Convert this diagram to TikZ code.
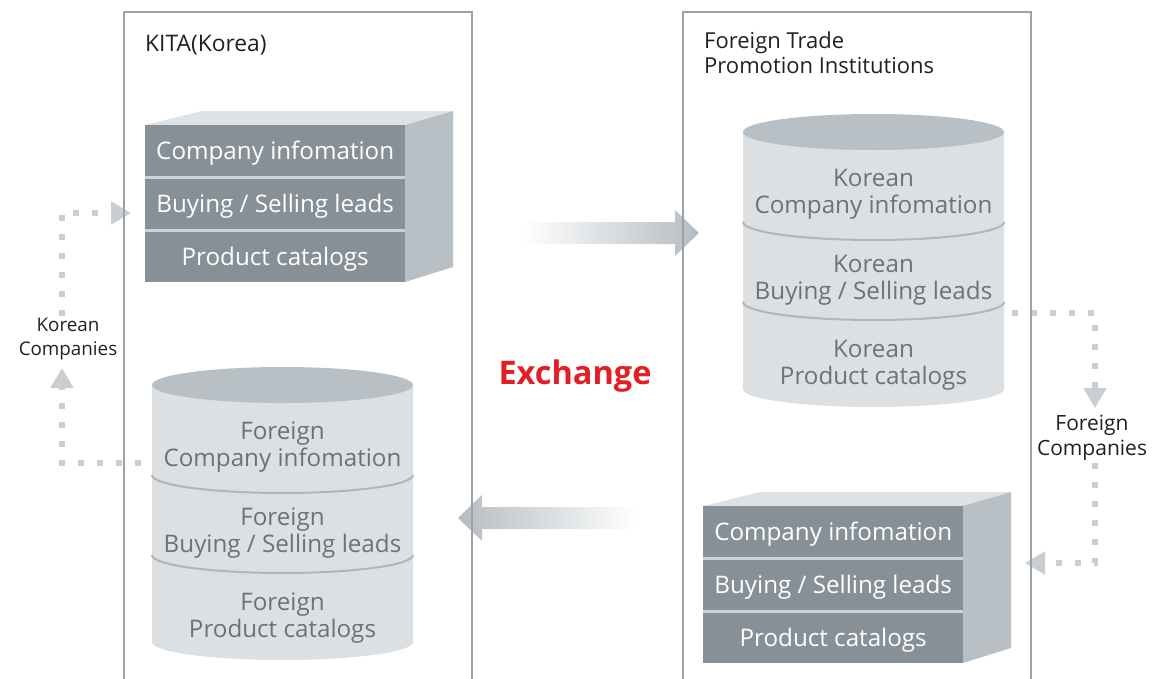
\documentclass[tikz,border=0pt]{standalone}
\usepackage{fontspec}
\setmainfont{Open Sans}
\usetikzlibrary{arrows.meta}
\definecolor{frame}{HTML}{9CA2A7}
\definecolor{boxfront}{HTML}{879096}
\definecolor{boxsep}{HTML}{CDD2D5}
\definecolor{boxside}{HTML}{B9C0C5}
\definecolor{boxtop}{HTML}{DEE2E5}
\definecolor{cylbody}{HTML}{DCE0E3}
\definecolor{cyltop}{HTML}{B9C0C5}
\definecolor{cylline}{HTML}{B0B6BB}
\definecolor{cyltext}{HTML}{6A7378}
\definecolor{dotc}{HTML}{C9CED2}
\definecolor{arrowc}{HTML}{B5BCC1}
\definecolor{exred}{HTML}{E31E24}
\definecolor{labelc}{HTML}{231F20}
\tikzset{
  panel/.style={draw=frame,line width=2pt},
  rowbox/.style={fill=boxfront,text=white,minimum width=260pt,inner sep=0pt,
    font=\fontsize{24.2}{28}\selectfont,text height=34pt,text depth=16.33pt,anchor=north west},
  cyltxt/.style={text=cyltext,align=center,font=\fontsize{24.2}{27}\selectfont,inner sep=0pt},
  lbl/.style={text=labelc,align=center,inner sep=2pt},
  hdr/.style={text=labelc,inner sep=0pt,font=\fontsize{22}{25}\selectfont},
  dotline/.style={draw=dotc,line width=6pt,dash pattern=on 6pt off 13pt},
  dottip/.style={-{Triangle[length=20pt,width=22pt]}},
  pics/dbcyl/.style={code={
    \fill[cylbody] (0,0) -- (0,257) .. controls (0,266.94) and (58.42,275) .. (130.5,275)
      .. controls (202.58,275) and (261,266.94) .. (261,257) -- (261,0) -- cycle;
    \fill[cyltop] (130.5,0) ellipse [x radius=130.5,y radius=18];
    \draw[cylline,line width=2pt] (0,90) .. controls (0,99.94) and (58.42,108) .. (130.5,108)
      .. controls (202.58,108) and (261,99.94) .. (261,90);
    \draw[cylline,line width=2pt] (0,170) .. controls (0,179.94) and (58.42,188) .. (130.5,188)
      .. controls (202.58,188) and (261,179.94) .. (261,170);
    \node[cyltxt] (-a) at (130.5,62.5) {#1\\Company infomation};
    \node[cyltxt] (-b) at (130.5,148.5) {#1\\Buying / Selling leads};
    \node[cyltxt] (-c) at (130.5,233.5) {#1\\Product catalogs};
  }},
  pics/dbbox/.style={code={
    \fill[boxtop] (0,0) -- (57,-14) -- (308,-14) -- (260,0) -- cycle;
    \fill[boxside] (260,0) -- (308,-14) -- (308,142) -- (260,157) -- cycle;
    \fill[boxsep] (0,0) rectangle (260,157);
    \node[rowbox] (-a) at (0,0) {Company infomation};
    \node[rowbox] (-b) at (0,53.33) {Buying / Selling leads};
    \node[rowbox] (-c) at (0,106.67) {Product catalogs};
  }}
}
\begin{document}
\begin{tikzpicture}[x=1pt,y=-1pt]
\useasboundingbox (0,0) rectangle (1163,678);
% connector end points
\coordinate (kin) at (131,213);
\coordinate (kup) at (62,368);
\coordinate (kfrom) at (160,463);
\coordinate (rfrom) at (993,313);
\coordinate (fdown) at (1095,408);
\coordinate (fin) at (1025,563);
% labels
\node[lbl,font=\fontsize{18.8}{24}\selectfont] (kc) at (68,339) {Korean\\Companies};
\node[lbl,font=\fontsize{21}{25}\selectfont] (fc) at (1092,438) {Foreign\\Companies};
% dotted connectors
\draw[dotline,dottip] ([xshift=-6pt]kc.north) |- (kin);
\draw[dotline,dottip] (kfrom) -| (kup);
\draw[dotline,dottip] (rfrom) -| (fdown);
\draw[dotline,dottip] ([xshift=3pt]fc.south) |- (fin);
% exchange arrows
\coordinate (xa) at (522,232.5);
\shade[left color=white,right color=arrowc] (xa) ++(0,-10.5) -- ++(153,0) -- ++(0,-12) -- ++(24,23)
  -- ++(-24,23) -- ++(0,-12) -- ++(-153,0) -- cycle;
\coordinate (xb) at (637,518);
\shade[left color=arrowc,right color=white] (xb) ++(0,-11) -- ++(-155,0) -- ++(0,-12) -- ++(-24,23)
  -- ++(24,23) -- ++(0,-12) -- ++(155,0) -- cycle;
% panels
\draw[panel] (124,680) -- (124,12) -- (472,12) -- (472,680);
\draw[panel] (683,680) -- (683,12) -- (1031,12) -- (1031,680);
% headers
\node[hdr,anchor=base west,font=\fontsize{22.8}{25}\selectfont] (kita) at (145,51) {KITA(Korea)};
\node[hdr,anchor=north west,align=left] (fti) at (704,32) {Foreign Trade\\Promotion Institutions};
% databases
\pic (lbox) at (145,125) {dbbox};
\pic (rbox) at (703,506) {dbbox};
\pic (lcyl) at (152,385) {dbcyl=Foreign};
\pic (rcyl) at (743,132) {dbcyl=Korean};
\node[font=\bfseries\fontsize{32.5}{36}\selectfont,text=exred] (ex) at (575,376) {Exchange};
\end{tikzpicture}
\end{document}
